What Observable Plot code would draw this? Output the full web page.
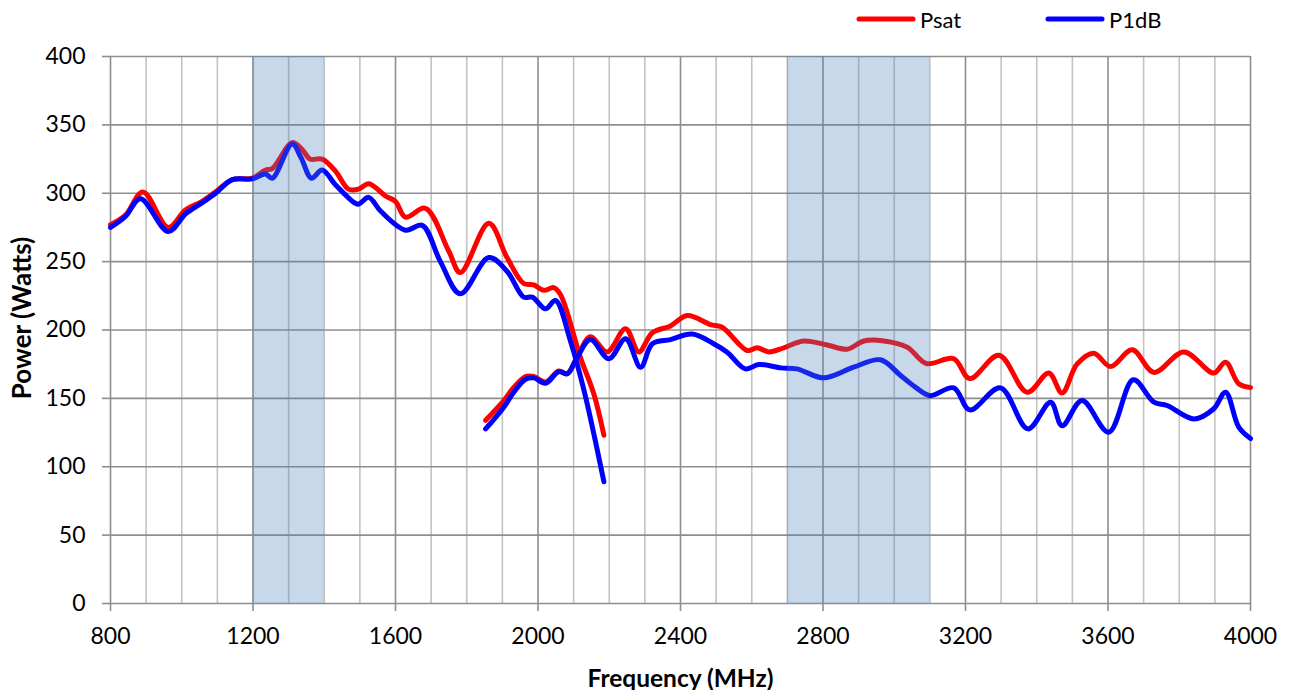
<!DOCTYPE html>
<html>
<head>
<meta charset="utf-8">
<script src="https://cdn.jsdelivr.net/npm/d3@7"></script>
<script src="https://cdn.jsdelivr.net/npm/@observablehq/plot@0.6"></script>
<style>
  body { margin: 0; background: #fff; font-family: Lato, "Open Sans", sans-serif; }
  #wrap { position: relative; width: 1289px; height: 690px; }
  #chart { position: absolute; left: 0; top: 0; }
  .leg { position: absolute; top: 5px; height: 28px; display: flex; align-items: center; font-size: 22px; color: #000; }
  .leg svg { margin-right: 3px; }
</style>
</head>
<body>
<div id="wrap"><div id="chart"></div></div>
<script>
// Series names and colours
const seriesNames = ["Psat", "P1dB"];
const seriesColors = ["#FF0000", "#0000FF"];

// Psat, first sweep (800 - ~2185 MHz)
const psatFreqA = [800, 842, 891, 962, 1011, 1057, 1095, 1142, 1198, 1235, 1254, 1310, 1338, 1360, 1394, 1432, 1468, 1496, 1525, 1572, 1600, 1628, 1684, 1749, 1782, 1862, 1913, 1960, 1988, 2016, 2044, 2063, 2119, 2157, 2185];
const psatValA  = [277, 284, 301, 275, 288, 294, 301, 310, 311, 317, 318, 337, 332, 325, 325, 316, 303, 303, 307, 298, 294, 282.5, 289, 258, 242, 278, 253, 234, 233, 229, 231, 226, 180, 153, 123];

// P1dB, first sweep
const p1dbFreqA = [800, 842, 884, 962, 1011, 1057, 1095, 1142, 1198, 1235, 1254, 1310, 1335, 1364, 1394, 1432, 1482, 1496, 1525, 1558, 1628, 1675, 1726, 1782, 1862, 1913, 1960, 1984, 2021, 2049, 2091, 2129, 2185];
const p1dbValA  = [275, 283, 296, 272, 285, 293, 300, 310, 310.5, 314, 311, 336, 326, 311, 317, 306, 293.5, 292, 297, 287, 273, 276.5, 250, 226.5, 253, 243, 224, 224, 215.5, 221.6, 192, 156, 89];

// Psat, second sweep (~1853 - 4000 MHz)
const psatFreqB = [1853, 1904, 1932, 1965, 1988, 2021, 2058, 2082, 2110, 2147, 2194, 2246, 2283, 2321, 2372, 2419, 2484, 2517, 2587, 2615, 2648, 2690, 2746, 2812, 2868, 2915, 2971, 3036, 3090, 3167, 3212, 3294, 3373, 3434, 3471, 3513, 3560, 3607, 3668, 3729, 3813, 3897, 3930, 3967, 4000];
const psatValB  = [134, 148.4, 158, 166, 166, 162, 170, 168, 180, 195, 184, 201, 184, 198, 203, 210.6, 204, 202, 185, 187, 184, 187, 192, 189, 186, 192, 192, 187.5, 175.5, 179, 164.5, 181.5, 154.5, 168.5, 154, 175, 183, 173.3, 185.5, 169, 184, 168.5, 176.5, 160.7, 158];

// P1dB, second sweep
const p1dbFreqB = [1853, 1904, 1932, 1965, 1988, 2021, 2058, 2082, 2110, 2147, 2199, 2246, 2288, 2321, 2372, 2433, 2493, 2531, 2582, 2620, 2681, 2727, 2802, 2886, 2961, 3018, 3060, 3100, 3167, 3212, 3298, 3375, 3439, 3471, 3527, 3602, 3671, 3729, 3766, 3841, 3897, 3930, 3967, 4000];
const p1dbValB  = [127.7, 143.6, 154.5, 164, 165, 161, 169.5, 168, 180, 193, 179, 193.6, 172.8, 190, 193, 197, 190, 183.8, 171.6, 174.8, 172.3, 171.6, 165, 172.8, 178.2, 166.7, 158, 152, 157.7, 141.6, 157.7, 127.7, 147.2, 130, 148.4, 125.3, 163.6, 147.2, 144.8, 135, 142.4, 154.5, 129, 120.7];

// Shaded bands (MHz)
const bandStart = [1200, 2700];
const bandEnd   = [1400, 3100];

// Axis ticks and grid
const xTicks = [800, 1200, 1600, 2000, 2400, 2800, 3200, 3600, 4000];
const xGridMinor = [900, 1000, 1100, 1300, 1400, 1500, 1700, 1800, 1900, 2100, 2200, 2300, 2500, 2600, 2700, 2900, 3000, 3100, 3300, 3400, 3500, 3700, 3800, 3900];
const yTicks = [0, 50, 100, 150, 200, 250, 300, 350, 400];
const xTitle = "Frequency (MHz)";
const yTitle = "Power (Watts)";

// Build table
const rows = [];
function addSeg(freqs, vals, series, seg) {
  freqs.forEach((f, i) => rows.push({ f, v: vals[i], series, seg }));
}
addSeg(psatFreqA, psatValA, seriesNames[0], "psatA");
addSeg(p1dbFreqA, p1dbValA, seriesNames[1], "p1dbA");
addSeg(psatFreqB, psatValB, seriesNames[0], "psatB");
addSeg(p1dbFreqB, p1dbValB, seriesNames[1], "p1dbB");
const bands = bandStart.map((s, i) => ({ x1: s, x2: bandEnd[i] }));

const chart = Plot.plot({
  width: 1289,
  height: 690,
  marginLeft: 110,
  marginRight: 39,
  marginTop: 56,
  marginBottom: 87,
  style: { fontFamily: "Lato, 'Open Sans', sans-serif", fontSize: "23px", color: "#000", background: "#fff" },
  x: { domain: [800, 4000] },
  y: { domain: [0, 400] },
  color: { domain: seriesNames, range: seriesColors },
  marks: [
    Plot.ruleX(xGridMinor, { stroke: "#c3c3c3", strokeWidth: 1.6 }),
    Plot.ruleX(xTicks, { stroke: "#8e8e8e", strokeWidth: 1.6 }),
    Plot.ruleY(yTicks, { stroke: "#8e8e8e", strokeWidth: 1.6 }),
    Plot.line(rows, { x: "f", y: "v", z: "seg", stroke: "series", strokeWidth: 5, curve: "catmull-rom", strokeLinecap: "round" }),
    Plot.rect(bands, { x1: "x1", x2: "x2", y1: 0, y2: 400, fill: "#4F81BD", fillOpacity: 0.31 }),
    Plot.axisX({ ticks: xTicks, tickSize: 8, tickPadding: 16, stroke: "#8e8e8e", strokeWidth: 1.6, label: null, tickFormat: d => String(d) }),
    Plot.axisY({ ticks: yTicks, tickSize: 8, tickPadding: 17, stroke: "#8e8e8e", strokeWidth: 1.6, label: null }),
    Plot.text([xTitle], { text: d => d, frameAnchor: "bottom", dy: 83, fontWeight: "bold", fontSize: 24.5 }),
    Plot.text([yTitle], { text: d => d, frameAnchor: "left", textAnchor: "middle", dx: -88, dy: -12, rotate: -90, fontWeight: "bold", fontSize: 26 })
  ]
});
document.getElementById("chart").appendChild(chart);

// Legend
const legendLeft = [855, 1044];
const wrap = document.getElementById("wrap");
seriesNames.forEach((name, i) => {
  const d = document.createElement("div");
  d.className = "leg";
  d.style.left = legendLeft[i] + "px";
  d.innerHTML = `<svg width="62" height="12"><line x1="4" y1="6" x2="58" y2="6" stroke="${seriesColors[i]}" stroke-width="5" stroke-linecap="round"/></svg><span>${name}</span>`;
  wrap.appendChild(d);
});
</script>
</body>
</html>
